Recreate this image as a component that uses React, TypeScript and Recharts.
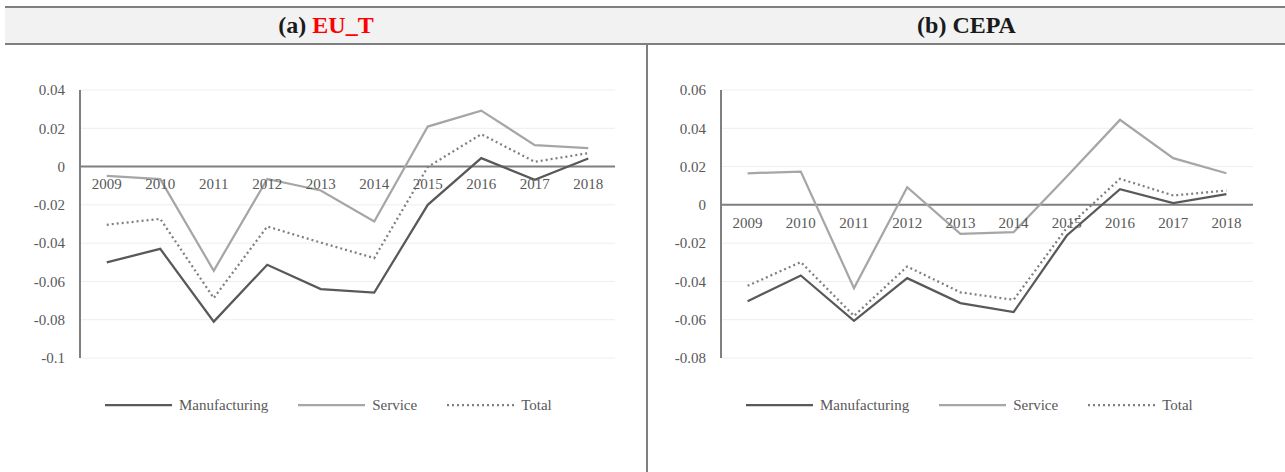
import { FunctionComponent } from "react";
import {
  LineChart,
  Line,
  XAxis,
  YAxis,
  CartesianGrid,
  ReferenceLine,
  ReferenceDot,
} from "recharts";

const years = ["2009", "2010", "2011", "2012", "2013", "2014", "2015", "2016", "2017", "2018"];

// (a) EU_T
const euManufacturing = [-0.05, -0.043, -0.081, -0.0513, -0.064, -0.0658, -0.02, 0.0044, -0.0069, 0.0042];
const euService = [-0.0049, -0.0066, -0.0544, -0.0065, -0.0125, -0.0287, 0.0209, 0.0292, 0.0112, 0.0096];
const euTotal = [-0.0304, -0.0273, -0.0687, -0.0313, -0.0397, -0.0478, -0.0002, 0.0169, 0.0025, 0.007];
const euTicks = [-0.1, -0.08, -0.06, -0.04, -0.02, 0, 0.02, 0.04];

// (b) CEPA
const cepaManufacturing = [-0.0503, -0.0369, -0.0606, -0.0383, -0.0513, -0.056, -0.016, 0.0082, 0.0009, 0.0056];
const cepaService = [0.0165, 0.0174, -0.0435, 0.0092, -0.0151, -0.0143, 0.0148, 0.0444, 0.0244, 0.0165];
const cepaTotal = [-0.0423, -0.0299, -0.058, -0.0322, -0.0457, -0.0496, -0.012, 0.0136, 0.0049, 0.0075];
const cepaTicks = [-0.08, -0.06, -0.04, -0.02, 0, 0.02, 0.04, 0.06];

const seriesNames = ["Manufacturing", "Service", "Total"];

const FONT = "'Liberation Serif', 'Times New Roman', serif";
const TEXT = "#595959";
const seriesStyle = [
  { key: "manufacturing", color: "#595959", dash: undefined },
  { key: "service", color: "#a6a6a6", dash: undefined },
  { key: "total", color: "#7f7f7f", dash: "2 3" },
];

const buildRows = (m: number[], s: number[], t: number[]) =>
  years.map((year, i) => ({ year, manufacturing: m[i], service: s[i], total: t[i] }));

const fmt = (v: number) => (Math.abs(v) < 1e-9 ? "0" : String(parseFloat(v.toFixed(2))));

interface PanelProps {
  rows: { year: string; manufacturing: number; service: number; total: number }[];
  ticks: number[];
  left: number;
  marginRight: number;
  pad: number;
}

const Panel: FunctionComponent<PanelProps> = ({ rows, ticks, left, marginRight, pad }) => {
  return (
    <div style={{ position: "absolute", left, top: 0, width: 640, height: 472 }}>
      <LineChart
        width={640}
        height={472}
        data={rows}
        margin={{ top: 90, right: marginRight, bottom: 114, left: 20 }}
      >
        <CartesianGrid vertical={false} stroke="#eeeeee" strokeWidth={1} />
        <XAxis dataKey="year" hide padding={{ left: pad, right: pad }} />
        <YAxis
          width={60}
          domain={[ticks[0], ticks[ticks.length - 1]]}
          ticks={ticks}
          tickFormatter={fmt}
          tickLine={false}
          tickSize={0}
          tickMargin={15}
          axisLine={{ stroke: "#808080", strokeWidth: 2 }}
          tick={{ fill: TEXT, fontSize: 15, fontFamily: FONT }}
          allowDataOverflow
        />
        <ReferenceLine y={0} stroke="#7f7f7f" strokeWidth={2} />
        {years.map((y) => (
          <ReferenceDot
            key={y}
            x={y}
            y={0}
            r={0}
            fill="none"
            stroke="none"
            label={{ value: y, position: "bottom", offset: 12, fill: TEXT, fontSize: 15, fontFamily: FONT }}
          />
        ))}
        {seriesStyle.map((s, i) => (
          <Line
            key={s.key}
            type="linear"
            dataKey={s.key}
            name={seriesNames[i]}
            stroke={s.color}
            strokeWidth={2.25}
            strokeDasharray={s.dash}
            dot={false}
            isAnimationActive={false}
          />
        ))}
      </LineChart>
      <div
        style={{
          position: "absolute",
          left: 105,
          top: 394,
          display: "flex",
          alignItems: "center",
          fontFamily: FONT,
          fontSize: 15,
          color: TEXT,
        }}
      >
        {seriesStyle.map((s, i) => (
          <div key={s.key} style={{ display: "flex", alignItems: "center", marginRight: 30 }}>
            <svg width={67} height={22}>
              <line
                x1={0}
                y1={11}
                x2={67}
                y2={11}
                stroke={s.color}
                strokeWidth={2.25}
                strokeDasharray={s.dash}
              />
            </svg>
            <span style={{ marginLeft: 7 }}>{seriesNames[i]}</span>
          </div>
        ))}
      </div>
    </div>
  );
};

const App = () => {
  return (
    <div
      style={{
        position: "absolute",
        left: 0,
        top: 0,
        width: 1285,
        height: 472,
        background: "#ffffff",
        overflow: "hidden",
        fontFamily: FONT,
      }}
    >
      {/* header band */}
      <div style={{ position: "absolute", left: 5, top: 6, width: 1280, height: 2, background: "#7f7f7f" }} />
      <div style={{ position: "absolute", left: 5, top: 8, width: 1280, height: 35, background: "#f2f2f2" }} />
      <div style={{ position: "absolute", left: 5, top: 43, width: 1280, height: 2, background: "#7f7f7f" }} />
      <div style={{ position: "absolute", left: 646, top: 45, width: 2, height: 427, background: "#7f7f7f" }} />
      <div
        style={{
          position: "absolute",
          left: 5,
          top: 8,
          width: 642,
          height: 35,
          lineHeight: "35px",
          textAlign: "center",
          fontWeight: "bold",
          fontSize: 24,
        }}
      >
        <span style={{ color: "#1a1a1a" }}>(a) </span>
        <span style={{ color: "#ff0000" }}>EU_T</span>
      </div>
      <div
        style={{
          position: "absolute",
          left: 648,
          top: 8,
          width: 637,
          height: 35,
          lineHeight: "35px",
          textAlign: "center",
          fontWeight: "bold",
          fontSize: 24,
          color: "#1a1a1a",
        }}
      >
        (b) CEPA
      </div>

      <Panel rows={buildRows(euManufacturing, euService, euTotal)} ticks={euTicks} left={0} marginRight={25} pad={26.75} />
      <Panel rows={buildRows(cepaManufacturing, cepaService, cepaTotal)} ticks={cepaTicks} left={641} marginRight={28} pad={26.6} />
    </div>
  );
};

export default App;
